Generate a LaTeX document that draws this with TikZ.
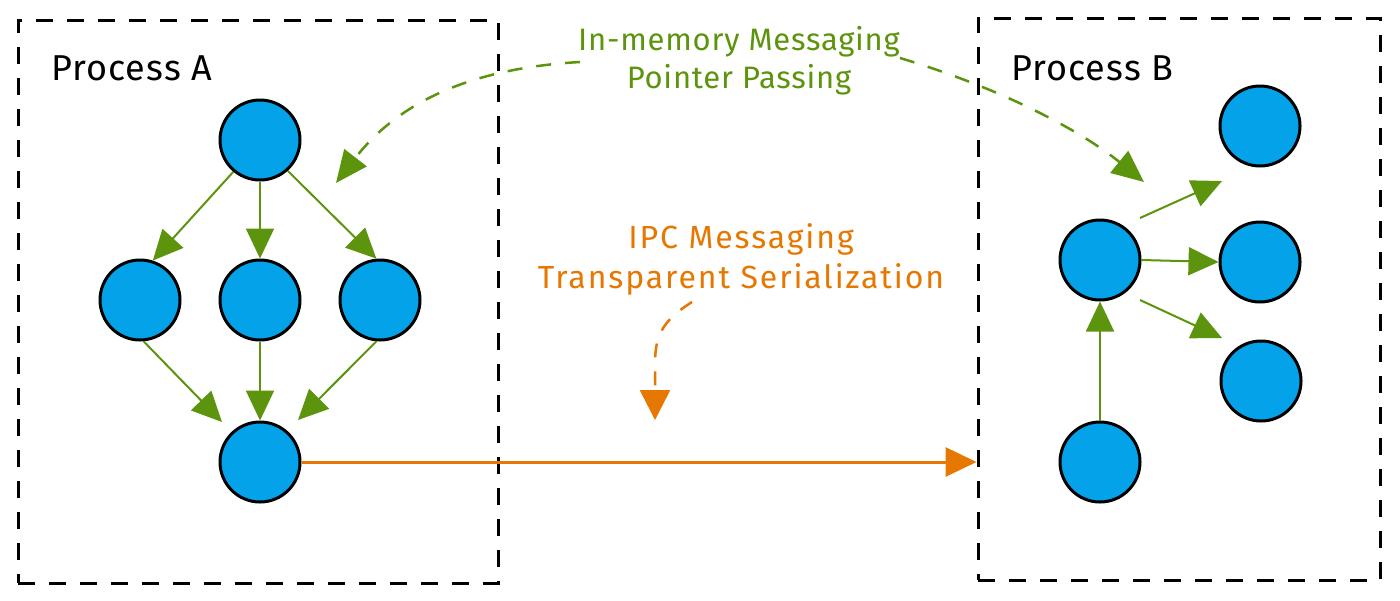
\documentclass[tikz,border=0pt]{standalone}
\usepackage{fontspec}
\setmainfont{Fira Sans}
\usetikzlibrary{arrows.meta,calc}
\definecolor{nodeblue}{HTML}{03A2E9}
\definecolor{lgreen}{HTML}{5C940D}
\definecolor{lorange}{HTML}{E67700}
\begin{document}
\begin{tikzpicture}[x=0.5pt,y=-0.5pt,
  dot/.style={circle, draw=black, line width=1.5pt, fill=nodeblue, minimum size=40pt, inner sep=0pt},
  procbox/.style={draw=black, line width=1.5pt, dash pattern=on 8.5pt off 7pt, rectangle, inner sep=0pt},
  proclabel/.style={anchor=base west, font=\fontsize{18}{21}\selectfont\addfontfeatures{LetterSpace=3}},
  glabel/.style={anchor=base, text=lgreen, font=\fontsize{15.5}{19}\selectfont\addfontfeatures{LetterSpace=2.5}},
  olabel/.style={anchor=base, text=lorange, font=\fontsize{16}{19}\selectfont\addfontfeatures{LetterSpace=6}},
  garrow/.style={draw=lgreen, line width=1pt, -{Triangle[length=15pt,width=14pt]}},
  gdash/.style={draw=lgreen, line width=1.25pt, dash pattern=on 7.5pt off 7pt, -{Triangle[length=16pt,width=14pt]}},
  oarrow/.style={draw=lorange, line width=1.5pt, -{Triangle[length=15.5pt,width=14.5pt]}},
  odash/.style={draw=lorange, line width=1.25pt, dash pattern=on 7pt off 7pt, -{Triangle[length=15pt,width=15pt]}}
]
\useasboundingbox (0,0) rectangle (1400,600);

% process boxes
\node[procbox, minimum width=240pt, minimum height=281.5pt] (boxA) at (258,301.5) {};
\node[procbox, minimum width=201pt, minimum height=281pt] (boxB) at (1179,299) {};
\node[proclabel] (labA) at (44,80) {Process A};
\node[proclabel] (labB) at (1004,80) {Process B};

% process A nodes
\node[dot] (tA) at (260,140) {};
\node[dot] (lA) at (140,300) {};
\node[dot] (mA) at (260,300) {};
\node[dot] (rA) at (380,300) {};
\node[dot] (bA) at (260,462) {};

% process B nodes
\node[dot] (cB) at (1100,260) {};
\node[dot] (bB) at (1100,462) {};
\node[dot] (rt) at (1260,126) {};
\node[dot] (rm) at (1260,262) {};
\node[dot] (rb) at (1261,381) {};

% labels
\node[glabel] (gl1) at (739,50) {In-memory Messaging};
\node[glabel] (gl2) at (739,88) {Pointer Passing};
\node[olabel] (ol1) at (741,248) {IPC Messaging};
\node[olabel] (ol2) at (741,288) {Transparent Serialization};

% arrows in A
\draw[garrow] (tA.-130) -- (lA.72);
\draw[garrow] (tA.south) -- (mA.north);
\draw[garrow] (tA.-48) -- (rA.95);
\draw[garrow] (lA.-85) -- ($(bA.center)+(-38,-40)$);
\draw[garrow] (mA.south) -- (bA.north);
\draw[garrow] (rA.-95) -- ($(bA.center)+(38,-42)$);

% arrows in B
\draw[garrow] ($(cB.center)+(40,-42)$) -- ($(rt.center)+(-38,55)$);
\draw[garrow] (cB.east) -- (rm.west);
\draw[garrow] ($(cB.center)+(40,40)$) -- ($(rb.center)+(-39,-43)$);
\draw[garrow] (bB.north) -- (cB.south);

% IPC arrow
\draw[oarrow] (bA.east) -- (bA.east -| boxB.west);

% dashed annotations
\coordinate (gs1) at (580,62);
\coordinate (gs2) at (900,58);
\coordinate (ge1) at (336,183);
\coordinate (ge2) at (1144,182);
\draw[gdash] (gs1) .. controls (475,68) and (400,100) .. (ge1);
\draw[gdash] (gs2) .. controls (1000,88) and (1080,130) .. (ge2);

\coordinate (os) at (692,302);
\coordinate (oe) at (655,420);
\draw[odash] (os) .. controls (660,322) and (655,338) .. (655,365) -- (oe);
\end{tikzpicture}
\end{document}
